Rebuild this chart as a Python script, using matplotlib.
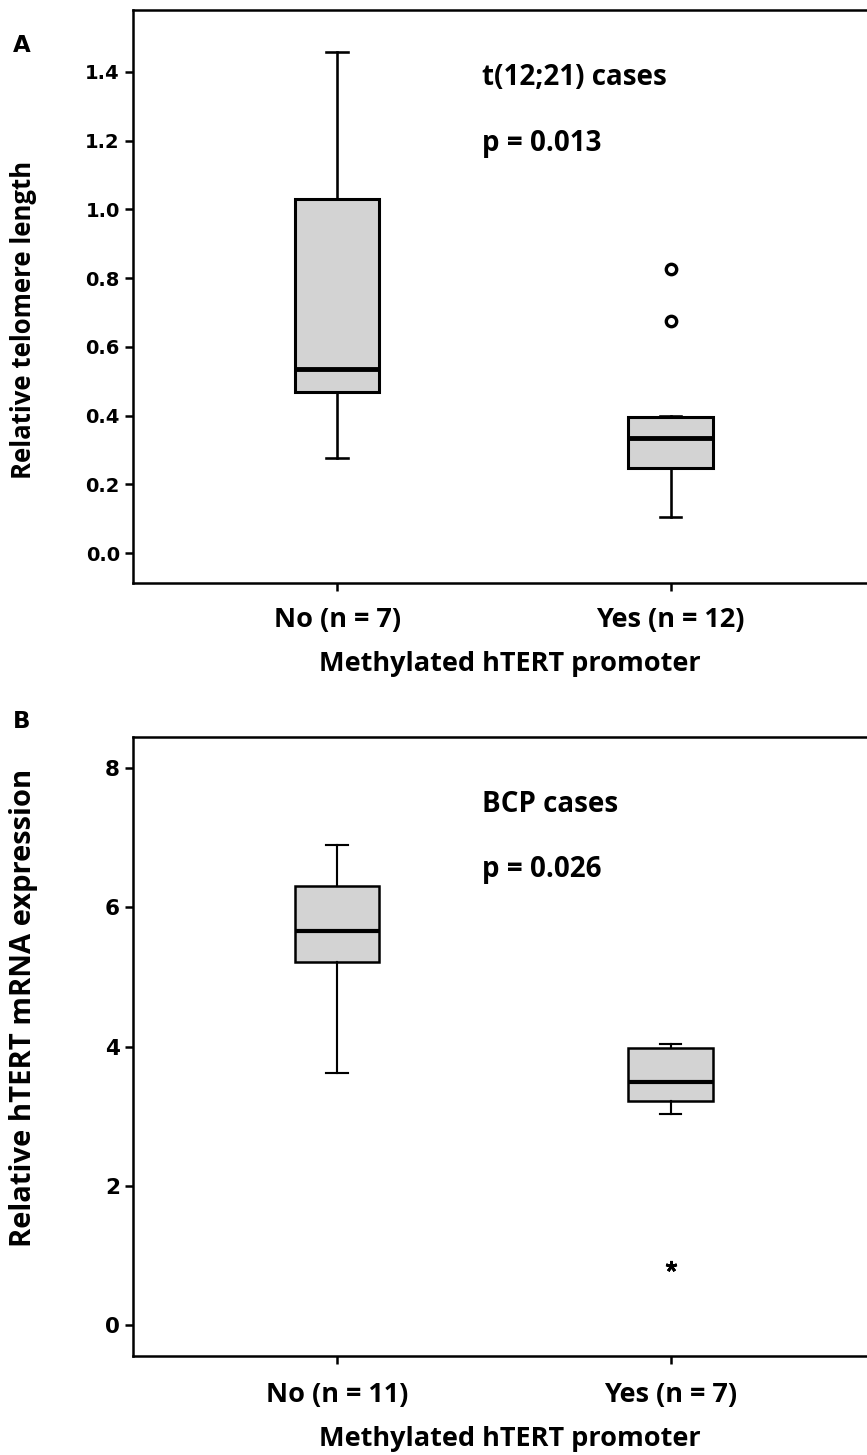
import matplotlib
matplotlib.use('Agg')
import matplotlib.pyplot as plt

plt.rcParams['font.family'] = ['Open Sans', 'DejaVu Sans']

# 组别
groups_a = ['No (n = 7)', 'Yes (n = 12)']
groups_b = ['No (n = 11)', 'Yes (n = 7)']

# A: 端粒长度 (whislo, q1, med, q3, whishi)
tel_whislo = [0.276, 0.105]
tel_q1 = [0.468, 0.247]
tel_med = [0.535, 0.335]
tel_q3 = [1.03, 0.395]
tel_whishi = [1.458, 0.40]
tel_fliers = [[], [0.827, 0.675]]

# B: hTERT mRNA 表达
mrna_whislo = [3.62, 3.03]
mrna_q1 = [5.22, 3.22]
mrna_med = [5.66, 3.49]
mrna_q3 = [6.31, 3.98]
mrna_whishi = [6.90, 4.04]
mrna_fliers = [[], [0.85]]


def make_stats(lo, q1, med, q3, hi, fl):
    st = []
    for i in range(len(lo)):
        st.append({'whislo': lo[i], 'q1': q1[i], 'med': med[i], 'q3': q3[i],
                   'whishi': hi[i], 'fliers': fl[i]})
    return st


fig = plt.figure(figsize=(8.67, 14.55), dpi=100)
ax1 = fig.add_axes([0.1534, 0.5993, 0.87, 0.3938])
ax2 = fig.add_axes([0.1534, 0.068, 0.87, 0.4254])


def draw(ax, stats, lw, mlw, flier, pad):
    ax.bxp(stats, positions=[1, 2], widths=0.254, patch_artist=True,
           capwidths=0.065,
           boxprops=dict(facecolor='#d3d3d3', edgecolor='black', linewidth=lw),
           medianprops=dict(color='black', linewidth=mlw, solid_capstyle='butt'),
           whiskerprops=dict(color='black', linewidth=lw * 0.85),
           capprops=dict(color='black', linewidth=lw * 0.85),
           flierprops=flier)
    for s in ax.spines.values():
        s.set_linewidth(1.8)
    ax.tick_params(axis='both', direction='out', length=6, width=1.8)
    ax.tick_params(axis='x', pad=pad, labelsize=19.5)
    ax.set_xlim(0.388, 2.65)


draw(ax1, make_stats(tel_whislo, tel_q1, tel_med, tel_q3, tel_whishi, tel_fliers), 2.2, 3.5,
     dict(marker='o', markerfacecolor='white', markeredgecolor='black', markersize=7.5,
          markeredgewidth=2.4, linestyle='none'), 11)
draw(ax2, make_stats(mrna_whislo, mrna_q1, mrna_med, mrna_q3, mrna_whishi, mrna_fliers), 1.8, 3.0,
     dict(marker=(5, 2, 0), markerfacecolor='black', markeredgecolor='black', markersize=8,
          markeredgewidth=2.0, linestyle='none'), 12.5)

ax1.set_ylim(-0.087, 1.58)
ax1.set_yticks([0.0, 0.2, 0.4, 0.6, 0.8, 1.0, 1.2, 1.4])
ax1.set_yticklabels(['0.0', '0.2', '0.4', '0.6', '0.8', '1.0', '1.2', '1.4'],
                    family='DejaVu Sans', fontweight='bold', fontsize=14)
ax1.set_xticks([1, 2])
ax1.set_xticklabels(groups_a, fontweight='bold')
ax1.set_xlabel('Methylated hTERT promoter', fontsize=19.5, fontweight='bold', labelpad=13)
ax1.text(1.436, 1.385, 't(12;21) cases', fontsize=20, fontweight='bold', va='center')
ax1.text(1.436, 1.193, 'p = 0.013', fontsize=20, fontweight='bold', va='center')

ax2.set_ylim(-0.445, 8.445)
ax2.set_yticks([0, 2, 4, 6, 8])
ax2.set_yticklabels(['0', '2', '4', '6', '8'], family='DejaVu Sans', fontweight='bold', fontsize=15.5)
ax2.set_xticks([1, 2])
ax2.set_xticklabels(groups_b, fontweight='bold')
ax2.set_xlabel('Methylated hTERT promoter', fontsize=19.5, fontweight='bold', labelpad=13)
ax2.text(1.436, 7.47, 'BCP cases', fontsize=20, fontweight='bold', va='center')
ax2.text(1.436, 6.54, 'p = 0.026', fontsize=20, fontweight='bold', va='center')

fig.text(24 / 867, 1 - 320 / 1455, 'Relative telomere length', rotation=90,
         fontsize=18.5, fontweight='bold', ha='center', va='center')
fig.text(24 / 867, 1 - 1008 / 1455, 'Relative hTERT mRNA expression', rotation=90,
         fontsize=21, fontweight='bold', ha='center', va='center')
fig.text(22 / 867, 1 - 45 / 1455, 'A', family='DejaVu Sans', fontsize=16.5, fontweight='bold',
         ha='center', va='center')
fig.text(22 / 867, 1 - 722 / 1455, 'B', family='DejaVu Sans', fontsize=16.5, fontweight='bold',
         ha='center', va='center')

fig.savefig('out.png', dpi=100)
